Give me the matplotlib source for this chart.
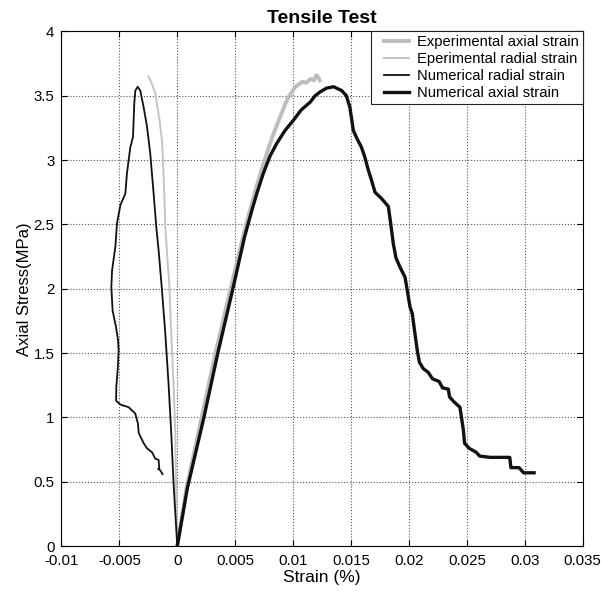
import numpy as np
import matplotlib
matplotlib.use("Agg")
import matplotlib.pyplot as plt
from matplotlib.legend_handler import HandlerLine2D

plt.rcParams['font.family'] = ['Liberation Sans', 'DejaVu Sans']

# values (strain in %, stress in MPa)
exp_axial_x = [0, 0.0008, 0.0021, 0.0033, 0.0046, 0.0058, 0.0067, 0.0074, 0.0078, 0.0082,
               0.0086, 0.0089, 0.0093, 0.0096, 0.0099, 0.0102, 0.0105, 0.0108, 0.0111,
               0.0115, 0.0118, 0.0120, 0.0122, 0.0123]
exp_axial_y = [0, 0.45, 1.0, 1.5, 2.0, 2.45, 2.75, 2.96, 3.07, 3.18,
               3.27, 3.34, 3.43, 3.49, 3.53, 3.57, 3.59, 3.61, 3.60,
               3.63, 3.62, 3.66, 3.64, 3.62]

exp_radial_x = [0, -0.00011, -0.00017, -0.00032, -0.00052, -0.00069, -0.00084, -0.00103,
                -0.00112, -0.00123, -0.00132, -0.00153, -0.0017, -0.0019, -0.00218, -0.00247]
exp_radial_y = [0, 0.49, 0.88, 1.26, 1.65, 2.04, 2.22, 2.48,
                2.74, 3.0, 3.15, 3.31, 3.41, 3.52, 3.59, 3.65]

num_radial_x = [0, -0.00032, -0.00052, -0.00075, -0.00103, -0.00132, -0.00161, -0.00181,
                -0.00204, -0.00233, -0.00261, -0.0029, -0.00319, -0.00342, -0.00362,
                -0.00371, -0.00382, -0.00405, -0.00434, -0.00448, -0.00491, -0.0052,
                -0.00534, -0.00563, -0.00569, -0.00558, -0.00528, -0.00511, -0.00506,
                -0.00514, -0.00526, -0.00528, -0.00491, -0.0042, -0.00362, -0.00339,
                -0.00333, -0.0029, -0.00261, -0.00218, -0.0019, -0.00161, -0.00155,
                -0.00166, -0.00147, -0.00127]
num_radial_y = [0, 0.49, 0.88, 1.26, 1.65, 1.99, 2.30, 2.48,
                2.74, 3.05, 3.26, 3.41, 3.54, 3.57, 3.54,
                3.44, 3.18, 3.10, 2.90, 2.74, 2.65, 2.51,
                2.33, 2.14, 2.01, 1.83, 1.70, 1.60, 1.52,
                1.37, 1.24, 1.13, 1.10, 1.08, 1.03, 0.95,
                0.88, 0.80, 0.76, 0.73, 0.68, 0.67, 0.60,
                0.60, 0.59, 0.56]

num_axial_x = [0, 0.00087, 0.0023, 0.0035, 0.0048, 0.0058, 0.00644, 0.0069, 0.00744,
               0.0080, 0.00859, 0.0093, 0.01003, 0.0107, 0.01147, 0.0119, 0.01233,
               0.0129, 0.0135, 0.0142, 0.0146, 0.0149, 0.0152,
               0.0155, 0.0159, 0.0162, 0.0165, 0.01678, 0.01707, 0.01765, 0.01822,
               0.01842, 0.01865, 0.01888, 0.01922, 0.01966, 0.01985, 0.02009, 0.02028,
               0.02052, 0.02072, 0.0209, 0.02123, 0.02167, 0.02204, 0.0226, 0.0229,
               0.0234, 0.0235, 0.0239, 0.0244, 0.0247, 0.0248, 0.0252, 0.0258, 0.0261,
               0.0270, 0.0287, 0.0288, 0.0295, 0.0299, 0.0308]
num_axial_y = [0, 0.45, 1.0, 1.5, 2.0, 2.4, 2.61, 2.75, 2.90,
               3.03, 3.13, 3.23, 3.31, 3.39, 3.45, 3.50, 3.53,
               3.56, 3.57, 3.54, 3.50, 3.41, 3.23,
               3.17, 3.10, 3.02, 2.92, 2.84, 2.75, 2.70, 2.64,
               2.51, 2.35, 2.24, 2.17, 2.09, 1.99, 1.86, 1.81,
               1.65, 1.52, 1.43, 1.38, 1.35, 1.30, 1.28, 1.23,
               1.22, 1.16, 1.12, 1.08, 0.90, 0.80, 0.76, 0.73, 0.70,
               0.69, 0.69, 0.61, 0.61, 0.57, 0.57]

xtick_labels = ['-0.01', '-0.005', '0', '0.005', '0.01', '0.015', '0.02', '0.025', '0.03', '0.035']
ytick_labels = ['0', '0.5', '1', '1.5', '2', '2.5', '3', '3.5', '4']


class ShortLine(HandlerLine2D):
    # legend line that starts a bit right of the handle box
    def get_xdata(self, legend, xdescent, ydescent, width, height, fontsize):
        xd = np.array([-xdescent + 0.6 * fontsize, -xdescent + width])
        return xd, xd


fig = plt.figure(figsize=(6.02, 5.93), dpi=100)
ax = fig.add_axes([0.102, 0.079, 0.866, 0.868])

ax.plot(exp_axial_x, exp_axial_y, color='#bdbdbd', lw=2.8, label='Experimental axial strain')
ax.plot(exp_radial_x, exp_radial_y, color='#c4c4c4', lw=1.4, label='Eperimental radial strain')
ax.plot(num_radial_x, num_radial_y, color='#111111', lw=1.3, label='Numerical radial strain')
ax.plot(num_axial_x, num_axial_y, color='#111111', lw=2.4, label='Numerical axial strain')

ax.set_xlim(-0.01, 0.035)
ax.set_ylim(0, 4)
ax.set_xticks(np.linspace(-0.01, 0.035, len(xtick_labels)))
ax.set_xticklabels(xtick_labels)
ax.set_yticks(np.linspace(0, 4, len(ytick_labels)))
ax.set_yticklabels(ytick_labels)
ax.tick_params(direction='in', top=True, right=True, labelsize=10.8, length=4)
ax.tick_params(axis='x', pad=6)
ax.tick_params(axis='y', pad=5)
ax.grid(True, linestyle=':', color='#555555', lw=0.8)
for s in ax.spines.values():
    s.set_linewidth(0.8)

ax.set_title('Tensile Test', fontsize=14, fontweight='bold', pad=6)
ax.set_xlabel('Strain (%)', fontsize=12.5, labelpad=1)
ax.set_ylabel('Axial Stress(MPa)', fontsize=12, labelpad=1)

leg = ax.legend(loc='upper right', fontsize=10.6, fancybox=False, framealpha=1,
                edgecolor='#222222', borderaxespad=0, handlelength=2.34,
                handletextpad=0.54, labelspacing=0.2, borderpad=0.25,
                handler_map={plt.Line2D: ShortLine()})
leg.get_frame().set_linewidth(0.8)

fig.savefig('out.png', dpi=100)
